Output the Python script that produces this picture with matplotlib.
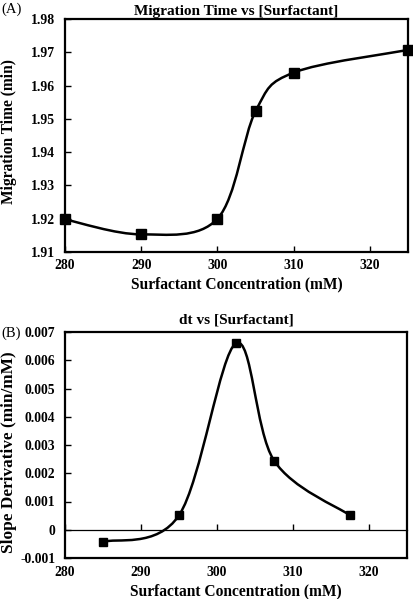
import matplotlib
matplotlib.use("Agg")
import matplotlib.pyplot as plt
from matplotlib.path import Path
from matplotlib.patches import PathPatch
import numpy as np

# ---------------- data ----------------
conc_a = [280, 290, 300, 305, 310, 325]
time_a = [1.9198, 1.9153, 1.9200, 1.9523, 1.9639, 1.9707]

conc_b = [285, 295, 302.5, 307.5, 317.5]
slope_b = [-0.00043, 0.00051, 0.00660, 0.00245, 0.00051]

xticks = [280, 290, 300, 310, 320]
yticks_a = [1.91, 1.92, 1.93, 1.94, 1.95, 1.96, 1.97, 1.98]
ytick_labels_a = ["1.91", "1.92", "1.93", "1.94", "1.95", "1.96", "1.97", "1.98"]
yticks_b = [-0.001, 0, 0.001, 0.002, 0.003, 0.004, 0.005, 0.006, 0.007]
ytick_labels_b = ["-0.001", "0", "0.001", "0.002", "0.003", "0.004", "0.005", "0.006", "0.007"]

plt.rcParams['font.family'] = ['Liberation Serif', 'DejaVu Serif']
W, H = 414, 599
fig = plt.figure(figsize=(W / 100, H / 100), dpi=100)

LABEL_FS = 11.2
TITLE_FS = 11


def ax_rect(l, r, t, b):
    return [l / W, 1 - b / H, (r - l) / W, (b - t) / H]


def smooth_path(ax, xs, ys, xlim, ylim):
    """Excel-like smoothed line: Catmull-Rom bezier through data points."""
    xs = np.asarray(xs, float)
    ys = np.asarray(ys, float)
    sx = xlim[1] - xlim[0]
    sy = ylim[1] - ylim[0]
    bbox = ax.get_position()
    aw = bbox.width * W
    ah = bbox.height * H
    px = (xs - xlim[0]) / sx * aw
    py = (ys - ylim[0]) / sy * ah
    n = len(xs)
    verts = [(px[0], py[0])]
    codes = [Path.MOVETO]
    for i in range(n - 1):
        p0 = (px[max(i - 1, 0)], py[max(i - 1, 0)])
        p1 = (px[i], py[i])
        p2 = (px[i + 1], py[i + 1])
        p3 = (px[min(i + 2, n - 1)], py[min(i + 2, n - 1)])
        c1 = (p1[0] + (p2[0] - p0[0]) / 6, p1[1] + (p2[1] - p0[1]) / 6)
        c2 = (p2[0] - (p3[0] - p1[0]) / 6, p2[1] - (p3[1] - p1[1]) / 6)
        verts += [c1, c2, p2]
        codes += [Path.CURVE4] * 3
    verts = [(vx / aw * sx + xlim[0], vy / ah * sy + ylim[0]) for vx, vy in verts]
    patch = PathPatch(Path(verts, codes), facecolor='none', edgecolor='black',
                      lw=1.8, zorder=3, clip_on=False)
    ax.add_patch(patch)


def style_axes(ax):
    for s in ax.spines.values():
        s.set_linewidth(1.6)
    ax.tick_params(direction='in', length=4, width=1, labelsize=9.8)
    ax.tick_params(axis='y', pad=7)
    for lab in ax.get_xticklabels() + ax.get_yticklabels():
        lab.set_fontweight('bold')


# ---------------- panel A ----------------
axA = fig.add_axes(ax_rect(65, 408, 19, 252))
xlimA = (280, 325)
ylimA = (1.91, 1.98)
axA.set_xlim(*xlimA)
axA.set_ylim(*ylimA)
axA.set_xticks(xticks)
axA.set_yticks(yticks_a)
axA.set_yticklabels(ytick_labels_a)
style_axes(axA)
axA.tick_params(axis='x', pad=5)
smooth_path(axA, conc_a, time_a, xlimA, ylimA)
axA.plot(conc_a, time_a, linestyle='none', marker='s', markersize=6.8,
         color='black', zorder=4, clip_on=False)
axA.set_title("Migration Time vs [Surfactant]", fontsize=TITLE_FS, fontweight='bold', pad=3)
axA.set_xlabel("Surfactant Concentration (mM)", fontsize=LABEL_FS, fontweight='bold', labelpad=3)
fig.text(9.5 / W, 1 - 131.5 / H, "Migration Time (min)", fontsize=LABEL_FS,
         fontweight='bold', rotation=90, ha='center', va='center')
fig.text(1 / W, 1 - 9 / H, "(A)", fontsize=10.5, va='center', ha='left')

# ---------------- panel B ----------------
axB = fig.add_axes(ax_rect(65, 407, 332, 558))
xlimB = (280, 325)
ylimB = (-0.001, 0.007)
axB.set_xlim(*xlimB)
axB.set_ylim(*ylimB)
axB.set_xticks(xticks)
axB.set_yticks(yticks_b)
axB.set_yticklabels(ytick_labels_b)
style_axes(axB)
axB.tick_params(axis='x', length=0, pad=6)
sec = axB.secondary_xaxis((0 - ylimB[0]) / (ylimB[1] - ylimB[0]))
sec.set_xticks(xticks)
sec.tick_params(direction='in', length=4, width=1, labelbottom=False, labeltop=False)
sec.spines['bottom'].set_linewidth(0.9)
smooth_path(axB, conc_b, slope_b, xlimB, ylimB)
axB.plot(conc_b, slope_b, linestyle='none', marker='s', markersize=6.2,
         color='black', zorder=4, clip_on=False)
axB.set_title("dt vs [Surfactant]", fontsize=TITLE_FS, fontweight='bold', pad=6)
axB.set_xlabel("Surfactant Concentration (mM)", fontsize=LABEL_FS, fontweight='bold', labelpad=3)
fig.text(9.5 / W, 1 - 452 / H, "Slope Derivative (min/mM)", fontsize=12.4,
         fontweight='bold', rotation=90, ha='center', va='center')
fig.text(1 / W, 1 - 333 / H, "(B)", fontsize=10.5, va='center', ha='left')

fig.savefig("out.png", dpi=100)
